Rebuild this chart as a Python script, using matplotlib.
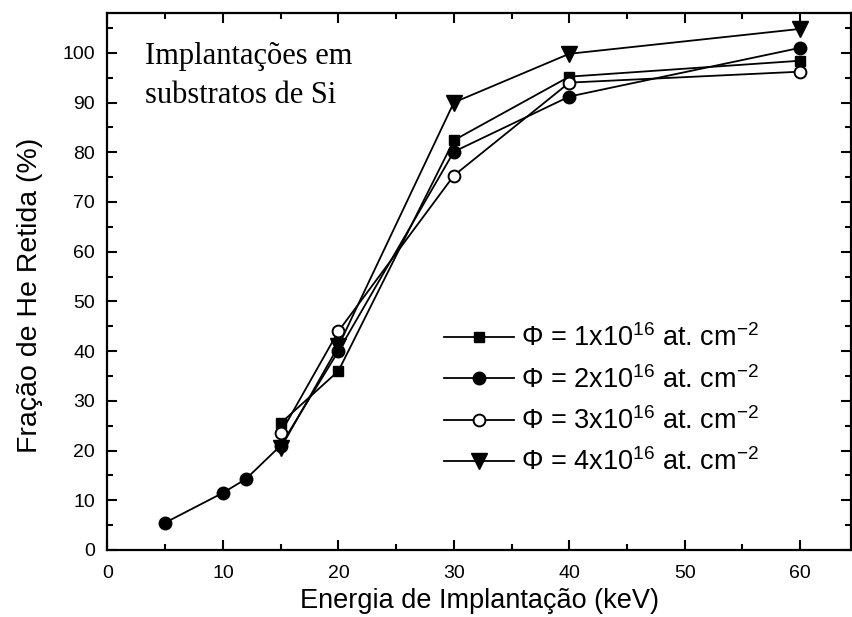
import matplotlib
matplotlib.use("Agg")
import matplotlib.pyplot as plt
from matplotlib.ticker import MultipleLocator

plt.rcParams['font.family'] = ['Liberation Sans', 'DejaVu Sans']
plt.rcParams['mathtext.fontset'] = 'custom'
plt.rcParams['mathtext.rm'] = 'Liberation Sans'
plt.rcParams['mathtext.it'] = 'Liberation Sans:italic'

# Data
energy_1 = [15, 20, 30, 40, 60]
frac_1 = [25.5, 36, 82.4, 95.2, 98.4]
energy_2 = [5, 10, 12, 15, 20, 30, 40, 60]
frac_2 = [5.5, 11.5, 14.3, 21, 40, 80.1, 91.2, 101]
energy_3 = [15, 20, 30, 40, 60]
frac_3 = [23.5, 44, 75.3, 94, 96.2]
energy_4 = [15, 20, 30, 40, 60]
frac_4 = [20.5, 41, 90, 99.8, 104.8]
labels = [r'$\Phi$ = 1x10$^{16}$ at. cm$^{-2}$',
          r'$\Phi$ = 2x10$^{16}$ at. cm$^{-2}$',
          r'$\Phi$ = 3x10$^{16}$ at. cm$^{-2}$',
          r'$\Phi$ = 4x10$^{16}$ at. cm$^{-2}$']

fig = plt.figure(figsize=(8.52, 6.17), dpi=100)
ax = fig.add_axes([107.5/852, 1-550/617, (851-107.5)/852, (550-13)/617])

lw = 1.3
ax.plot(energy_1, frac_1, '-s', color='black', lw=lw, ms=7, mfc='black', mec='black', label=labels[0], zorder=3)
ax.plot(energy_2, frac_2, '-o', color='black', lw=lw, ms=9, mfc='black', mec='black', label=labels[1], zorder=3)
ax.plot(energy_3, frac_3, '-o', color='black', lw=lw, ms=8.5, mfc='white', mec='black', mew=1.4, label=labels[2], zorder=3)
ax.plot(energy_4, frac_4, '-v', color='black', lw=lw, ms=12, mfc='black', mec='black', label=labels[3], zorder=3)

ax.set_xlim(0, 64.4)
ax.set_ylim(0, 108)
ax.xaxis.set_major_locator(MultipleLocator(10))
ax.xaxis.set_minor_locator(MultipleLocator(5))
ax.yaxis.set_major_locator(MultipleLocator(10))
ax.yaxis.set_minor_locator(MultipleLocator(5))
ax.tick_params(which='both', direction='in', top=True, right=True, width=1.5, labelsize=14)
ax.tick_params(axis='x', which='major', length=7, pad=11)
ax.tick_params(axis='y', which='major', length=7, pad=9)
ax.tick_params(which='minor', length=4)
for s in ax.spines.values():
    s.set_linewidth(1.6)

ax.set_xlabel('Energia de Implantação (keV)', fontsize=19.5, labelpad=4)
ax.set_ylabel('Fração de He Retida (%)', fontsize=20.5)
ax.yaxis.set_label_coords((30 - 107.5) / (851 - 107.5), (550 - 295) / (550 - 13))
ax.yaxis.label.set_va('center')

ax.text(145/852, 1-76/617, 'Implantações em\nsubstratos de Si', transform=fig.transFigure,
        family='Liberation Serif', fontsize=22, va='center', ha='left', linespacing=1.45)

leg = ax.legend(loc='upper left', bbox_to_anchor=(0.438, 0.44), frameon=False, fontsize=19.5,
                handlelength=2.6, handletextpad=0.25, labelspacing=0.5, borderaxespad=0)

fig.savefig('out.png', dpi=100)
